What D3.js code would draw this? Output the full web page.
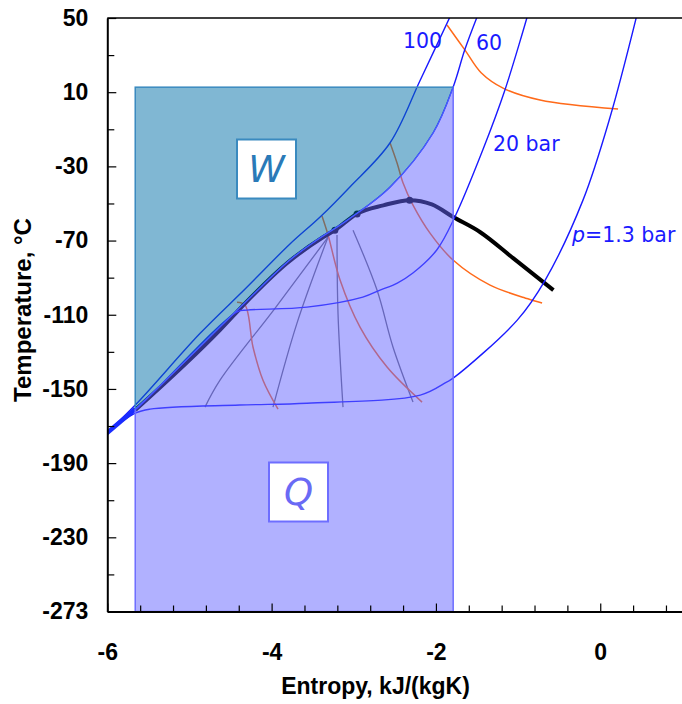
<!DOCTYPE html>
<html>
<head>
<meta charset="utf-8">
<script src="https://cdn.jsdelivr.net/npm/d3@7"></script>
<style>
  html, body { margin: 0; padding: 0; background: #fff; }
  svg { display: block; }
</style>
</head>
<body>
<svg id="chart" width="682" height="704"></svg>
<script>
// ---------------- DATA ----------------
// axes
const xTickValues = [-6, -4, -2, 0];
const xTickLabels = ["-6", "-4", "-2", "0"];
const xMinorTicks = [-5.6, -5.2, -4.8, -4.4, -3.6, -3.2, -2.8, -2.4, -1.6, -1.2, -0.8, -0.4, 0.4, 0.8];
const yTickValues = [50, 10, -30, -70, -110, -150, -190, -230, -270];
const yTickLabels = ["50", "10", "-30", "-70", "-110", "-150", "-190", "-230", "-273"];
const yMinorTicks = [30, -10, -50, -90, -130, -170, -210, -250];
const xTitle = "Entropy, kJ/(kgK)";
const yTitle = "Temperature, °C";

// isobars [entropy, temperature]
const isobar100 = [[-6.05,-175.5],[-5.66,-158.7],[-4.87,-120],[-4.32,-96.0],[-3.78,-72.0],[-3.41,-57.3],[-3.05,-41.2],[-2.56,-17.4],[-2.19,16.6],[-1.83,50.5]];
const isobar60  = [[-6.05,-175.5],[-5.66,-160.9],[-4.32,-103.2],[-3.78,-80.5],[-3.45,-69.7],[-3.08,-59.0],[-2.56,-41.2],[-2.035,-12.0],[-1.79,12.8],[-1.65,32.7],[-1.50,50.5]];
const isobar20  = [[-6.05,-175.5],[-5.66,-161.4],[-4.42,-108.4],[-4.30,-107.5],[-3.57,-105.9],[-2.89,-100.5],[-2.68,-96.7],[-2.47,-92.9],[-2.28,-87.5],[-1.99,-75.1],[-1.77,-57.3],[-1.43,-21.2],[-1.16,11.2],[-0.89,50.5]];
const isobar13  = [[-6.05,-175.5],[-5.66,-163.1],[-5.48,-160.9],[-4.39,-158.7],[-3.57,-157.7],[-2.19,-153.3],[-1.87,-146.3],[-1.79,-144.2],[-1.01,-112.9],[-0.67,-91.3],[-0.21,-48.2],[0.12,-3.4],[0.44,50.5]];
const isobarLabels = ["100", "60", "20 bar", "=1.3 bar"];

// saturation dome
const dome = [[-5.66,-161.4],[-4.63,-118.3],[-4.32,-103.7],[-3.81,-82.1],[-3.37,-68.1],[-3.23,-64.4],[-2.96,-55.5],[-2.64,-51.0],[-2.32,-48.2],[-2.05,-50.5],[-1.79,-57.3],[-1.46,-65.5],[-1.06,-79.5],[-0.57,-96.7]];
const domePoints = [[-3.23,-64.4],[-2.96,-55.7],[-2.32,-48.2]];

// isenthalps
const isenthalpA = [[-1.865,46.2],[-1.646,32.7],[-1.45,20.5],[-1.183,12.2],[-0.733,5.8],[0.217,0.9]];
const isenthalpB = [[-2.558,-17.4],[-2.473,-28.2],[-2.40,-39.0],[-2.279,-50.9],[-2.072,-66.0],[-1.792,-80.5],[-1.341,-94.0],[-0.708,-103.7]];
const isenthalpC = [[-3.387,-56.8],[-3.313,-67.0],[-3.167,-91.3],[-2.924,-116.7],[-2.595,-138.2],[-2.169,-157.1]];
const isenthalpD = [[-4.421,-103.2],[-4.324,-104.8],[-4.226,-127.5],[-4.105,-145.3],[-3.922,-160.9]];

// constant-quality fan lines
const fanLine1 = [[-3.313,-68.1],[-3.95,-106],[-4.628,-145.3],[-4.811,-159.8]];
const fanLine2 = [[-3.313,-68.1],[-3.691,-114.5],[-3.983,-159.8]];
const fanLine3 = [[-3.204,-67.0],[-3.192,-109.1],[-3.131,-159.8]];
const fanLine4 = [[-3.009,-64.4],[-2.717,-96.7],[-2.522,-127.5],[-2.279,-157.1]];

// shaded W / Q rectangle
const rectS = [-5.66, -1.79];
const rectT = [-270, 12.7];
const boxLabels = ["W", "Q"];

// ---------------- CHART ----------------
const svg = d3.select("#chart");
const x = d3.scaleLinear().domain([-6, 1]).range([107.3, 682.4]);
const y = d3.scaleLinear().domain([-270, 50]).range([611.5, 18]);

const line = d3.line().x(d => x(d[0])).y(d => y(d[1])).curve(d3.curveCatmullRom.alpha(0.5));
const defs = svg.append("defs");

// clip regions above / below the 60 bar isobar (curve runs bottom-left -> top)
const p60path = line(isobar60);
const first = isobar60[0], last = isobar60[isobar60.length - 1];
defs.append("clipPath").attr("id", "below").append("path")
  .attr("d", p60path + `L${x(last[0])},${y(80)}L${x(3)},${y(80)}L${x(3)},${y(-330)}L${x(first[0])},${y(-330)}Z`);
defs.append("clipPath").attr("id", "above").append("path")
  .attr("d", p60path + `L${x(last[0])},${y(80)}L${x(-8)},${y(80)}L${x(-8)},${y(first[1])}Z`);
defs.append("clipPath").attr("id", "plot").append("rect")
  .attr("x", x(-6)).attr("y", y(50)).attr("width", x(1) - x(-6)).attr("height", y(-270) - y(50));

const g = svg.append("g").attr("clip-path", "url(#plot)");

// fan lines (gray)
[fanLine1, fanLine2, fanLine3, fanLine4].forEach(d => {
  g.append("path").attr("d", line(d)).attr("fill", "none").attr("stroke", "#6a6a74").attr("stroke-width", 1.3);
});
// isenthalps (orange)
[isenthalpA, isenthalpB, isenthalpC, isenthalpD].forEach(d => {
  g.append("path").attr("d", line(d)).attr("fill", "none").attr("stroke", "#ff6a1a").attr("stroke-width", 1.5);
});
// dome
g.append("path").attr("d", d3.line().x(d => x(d[0])).y(d => y(d[1])).curve(d3.curveMonotoneX)(dome))
  .attr("fill", "none").attr("stroke", "#000").attr("stroke-width", 4).attr("stroke-linejoin", "round");
g.selectAll("circle.dp").data(domePoints).join("circle").attr("class", "dp")
  .attr("cx", d => x(d[0])).attr("cy", d => y(d[1])).attr("r", 3.5).attr("fill", "#000");
// isobars
[isobar100, isobar60, isobar20, isobar13].forEach(d => {
  g.append("path").attr("d", line(d)).attr("fill", "none").attr("stroke", "#1a1aff").attr("stroke-width", 1.4);
});
// thick converged segment at lower left
g.append("path").attr("d", line(isobar60.slice(0, 2))).attr("fill", "none").attr("stroke", "#1a2cff").attr("stroke-width", 4.5);

// shaded regions
const rx = x(rectS[0]), rw = x(rectS[1]) - x(rectS[0]);
const ry = y(rectT[1]), rh = y(rectT[0]) - y(rectT[1]);
svg.append("rect").attr("x", rx).attr("y", ry).attr("width", rw).attr("height", rh)
  .attr("fill", "#016fa7").attr("fill-opacity", 0.5).attr("clip-path", "url(#above)");
svg.append("rect").attr("x", rx).attr("y", ry).attr("width", rw).attr("height", rh)
  .attr("fill", "#6464ff").attr("fill-opacity", 0.5).attr("clip-path", "url(#below)");
svg.append("rect").attr("x", rx).attr("y", ry).attr("width", rw).attr("height", rh)
  .attr("fill", "none").attr("stroke", "#3a8abf").attr("stroke-width", 1.5).attr("clip-path", "url(#above)");
svg.append("rect").attr("x", rx).attr("y", ry).attr("width", rw).attr("height", rh)
  .attr("fill", "none").attr("stroke", "#6e6eff").attr("stroke-width", 1.5).attr("clip-path", "url(#below)");
// boundary line (60 bar) highlight inside the rectangle
defs.append("clipPath").attr("id", "rectclip").append("rect")
  .attr("x", rx - 1).attr("y", ry - 1).attr("width", rw + 2).attr("height", rh + 2);
svg.append("path").attr("d", p60path).attr("fill", "none").attr("stroke", "#4a5cff").attr("stroke-width", 1.2)
  .attr("clip-path", "url(#rectclip)");

// W and Q boxes
const boxes = [
  {label: boxLabels[0], cx: 266.5, cy: 169, stroke: "#3a8abf", color: "#2a7ab8"},
  {label: boxLabels[1], cx: 298.5, cy: 492, stroke: "#6e6eff", color: "#6a6af5"}
];
boxes.forEach(b => {
  svg.append("rect").attr("x", b.cx - 29.5).attr("y", b.cy - 29.5).attr("width", 59).attr("height", 59)
    .attr("fill", "#fff").attr("stroke", b.stroke).attr("stroke-width", 2);
  svg.append("text").attr("x", b.cx).attr("y", b.cy + 13).attr("text-anchor", "middle")
    .attr("font-family", "DejaVu Sans, Verdana, sans-serif").attr("font-style", "italic")
    .attr("font-size", 37).attr("fill", b.color).text(b.label);
});

// isobar labels
const labFont = "DejaVu Sans, Verdana, sans-serif";
const lab = (tx, ty, t) => svg.append("text").attr("x", tx).attr("y", ty).attr("font-family", labFont)
  .attr("font-size", 20.5).attr("fill", "#1a1aff").text(t);
lab(403, 47.5, isobarLabels[0]);
lab(476, 50, isobarLabels[1]);
lab(493, 150.5, isobarLabels[2]);
const pl = svg.append("text").attr("x", 572).attr("y", 242).attr("font-family", labFont)
  .attr("font-size", 20.5).attr("fill", "#1a1aff");
pl.append("tspan").attr("font-style", "italic").text("p");
pl.append("tspan").text(isobarLabels[3]);

// axes
const tickFont = "Liberation Sans, Arial, sans-serif";
const yAxis = svg.append("g").attr("transform", `translate(${x(-6)},0)`)
  .call(d3.axisLeft(y).tickValues(yTickValues).tickFormat((d, i) => yTickLabels[i]).tickSizeInner(-9).tickSizeOuter(0).tickPadding(19));
svg.append("g").attr("transform", `translate(${x(-6)},0)`)
  .call(d3.axisLeft(y).tickValues(yMinorTicks).tickFormat("").tickSizeInner(-7).tickSizeOuter(0))
  .select(".domain").remove();
const xAxis = svg.append("g").attr("transform", `translate(0,${y(-270)})`)
  .call(d3.axisBottom(x).tickValues(xTickValues).tickFormat((d, i) => xTickLabels[i]).tickSizeInner(-8).tickSizeOuter(0).tickPadding(32));
svg.append("g").attr("transform", `translate(0,${y(-270)})`)
  .call(d3.axisBottom(x).tickValues(xMinorTicks).tickFormat("").tickSizeInner(-6).tickSizeOuter(0))
  .select(".domain").remove();
[yAxis, xAxis].forEach(a => {
  a.selectAll("text").attr("font-family", tickFont).attr("font-weight", "bold").attr("font-size", 23).attr("fill", "#000");
  a.select(".domain").attr("stroke", "#000").attr("stroke-width", 2);
});
svg.selectAll(".tick line").attr("stroke", "#000").attr("stroke-width", 1.2);
// top border
svg.append("line").attr("x1", x(-6)).attr("x2", x(1)).attr("y1", y(50)).attr("y2", y(50))
  .attr("stroke", "#000").attr("stroke-width", 1.5);

// titles
svg.append("text").attr("x", 375.5).attr("y", 694).attr("text-anchor", "middle")
  .attr("font-family", tickFont).attr("font-weight", "bold").attr("font-size", 23).text(xTitle);
svg.append("text").attr("transform", "translate(31,310) rotate(-90)").attr("text-anchor", "middle")
  .attr("font-family", tickFont).attr("font-weight", "bold").attr("font-size", 24).text(yTitle);
</script>
</body>
</html>
